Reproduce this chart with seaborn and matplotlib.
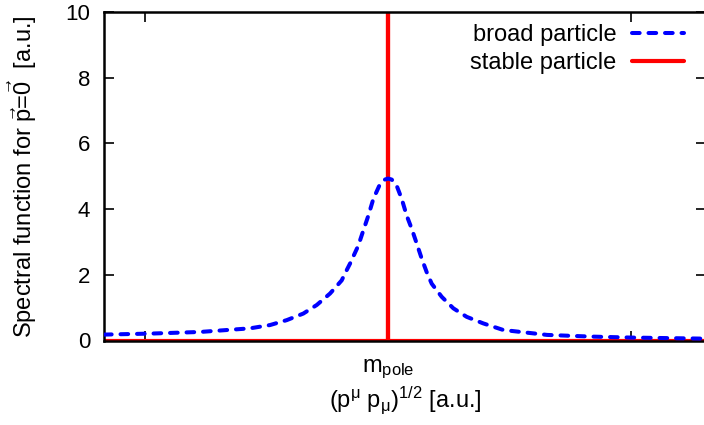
import matplotlib
matplotlib.use("Agg")
import matplotlib.pyplot as plt
import seaborn as sns
import pandas as pd

# ---- data ----
broad_x = [0.4156, 0.5103, 0.6132, 0.7160, 0.7572, 0.7916, 0.8257, 0.8533, 0.8807, 0.9047,
           0.9115, 0.9218, 0.9389, 0.9492, 0.9595, 0.9698, 0.9835, 0.9938, 1.0000, 1.0076,
           1.0179, 1.0282, 1.0385, 1.0488, 1.0591, 1.0694, 1.0796, 1.0899, 1.1105, 1.1344,
           1.1619, 1.1961, 1.2372, 1.3272, 1.4156, 1.4979, 1.6358, 1.6543]
broad_y = [0.18, 0.21, 0.26, 0.37, 0.47, 0.62, 0.82, 1.08, 1.43, 1.83,
           2.04, 2.34, 2.89, 3.35, 3.80, 4.31, 4.76, 4.90, 4.93, 4.90,
           4.71, 4.31, 3.80, 3.40, 2.95, 2.49, 2.08, 1.73, 1.33, 0.98,
           0.72, 0.52, 0.32, 0.17, 0.12, 0.09, 0.06, 0.055]
stable_x = [0.4156, 1.0, 1.0, 1.0, 1.6543]
stable_y = [0.0, 0.0, 10.0, 0.0, 0.0]
x_ticks = [0.5, 1.0, 1.5]
x_ticklabels = ["", r"m$_{\mathrm{pole}}$", ""]
y_ticks = [0, 2, 4, 6, 8, 10]
series_names = ["broad particle", "stable particle"]

sns.set_style("ticks")
plt.rcParams["font.family"] = ["Liberation Sans", "DejaVu Sans"]
plt.rcParams["mathtext.fontset"] = "custom"
plt.rcParams["mathtext.rm"] = "Liberation Sans"
plt.rcParams["mathtext.it"] = "Liberation Sans:italic"
plt.rcParams["mathtext.sf"] = "Liberation Sans"
for key in ["text.color", "axes.labelcolor", "xtick.color", "ytick.color",
            "xtick.labelcolor", "ytick.labelcolor", "axes.edgecolor"]:
    plt.rcParams[key] = "black"

fs = 17
fig = plt.figure(figsize=(7.04, 4.25), dpi=100)
ax = fig.add_axes([104 / 704, 1 - 340.5 / 425, 602 / 704, (340.5 - 12) / 425])

df_b = pd.DataFrame({"x": broad_x, "y": broad_y})
df_s = pd.DataFrame({"x": stable_x, "y": stable_y})

sns.lineplot(data=df_s, x="x", y="y", sort=False, estimator=None, ax=ax,
             color="#ff0000", linewidth=3.0, label=series_names[1], zorder=2)
sns.lineplot(data=df_b, x="x", y="y", sort=False, estimator=None, ax=ax,
             color="#0000ff", linewidth=2.9, label=series_names[0], zorder=3,
             linestyle=(0, (1.9, 2.2)), dash_capstyle="round", dash_joinstyle="round")

ax.set_xlim(0.4156, 1.6543)
ax.set_ylim(0, 10)
ax.set_xticks(x_ticks)
ax.set_xticklabels(x_ticklabels, fontsize=fs)
ax.set_yticks(y_ticks)
ax.set_yticklabels([str(v) for v in y_ticks], fontsize=16)
ax.tick_params(axis="both", direction="in", length=7, width=1.2, color="black",
               labelcolor="black", top=True, right=True)
ax.tick_params(axis="y", pad=10)
ax.tick_params(axis="x", pad=12)

for s in ax.spines.values():
    s.set_linewidth(1.8)
    s.set_color("black")

ax.set_ylabel(r"Spectral function for $\vec{\mathrm{p}}$=$\vec{0}$  [a.u.]", fontsize=fs,
              labelpad=19, color="black")
ax.set_xlabel(r"(p$^{\mathrm{\mu}}$ p$_{\mathrm{\mu}}$)$^{1/2}$ [a.u.]", fontsize=fs,
              labelpad=3, color="black")

handles, labels = ax.get_legend_handles_labels()
order = [labels.index(n) for n in series_names]
leg = ax.legend([handles[i] for i in order], [labels[i] for i in order],
                loc="upper right", bbox_to_anchor=(1.0, 1.032), frameon=False,
                markerfirst=False, fontsize=fs, handlelength=2.2, handletextpad=0.65,
                borderaxespad=0.55, labelspacing=0.25)
for t in leg.get_texts():
    t.set_color("black")

fig.savefig("out.png", dpi=100)
